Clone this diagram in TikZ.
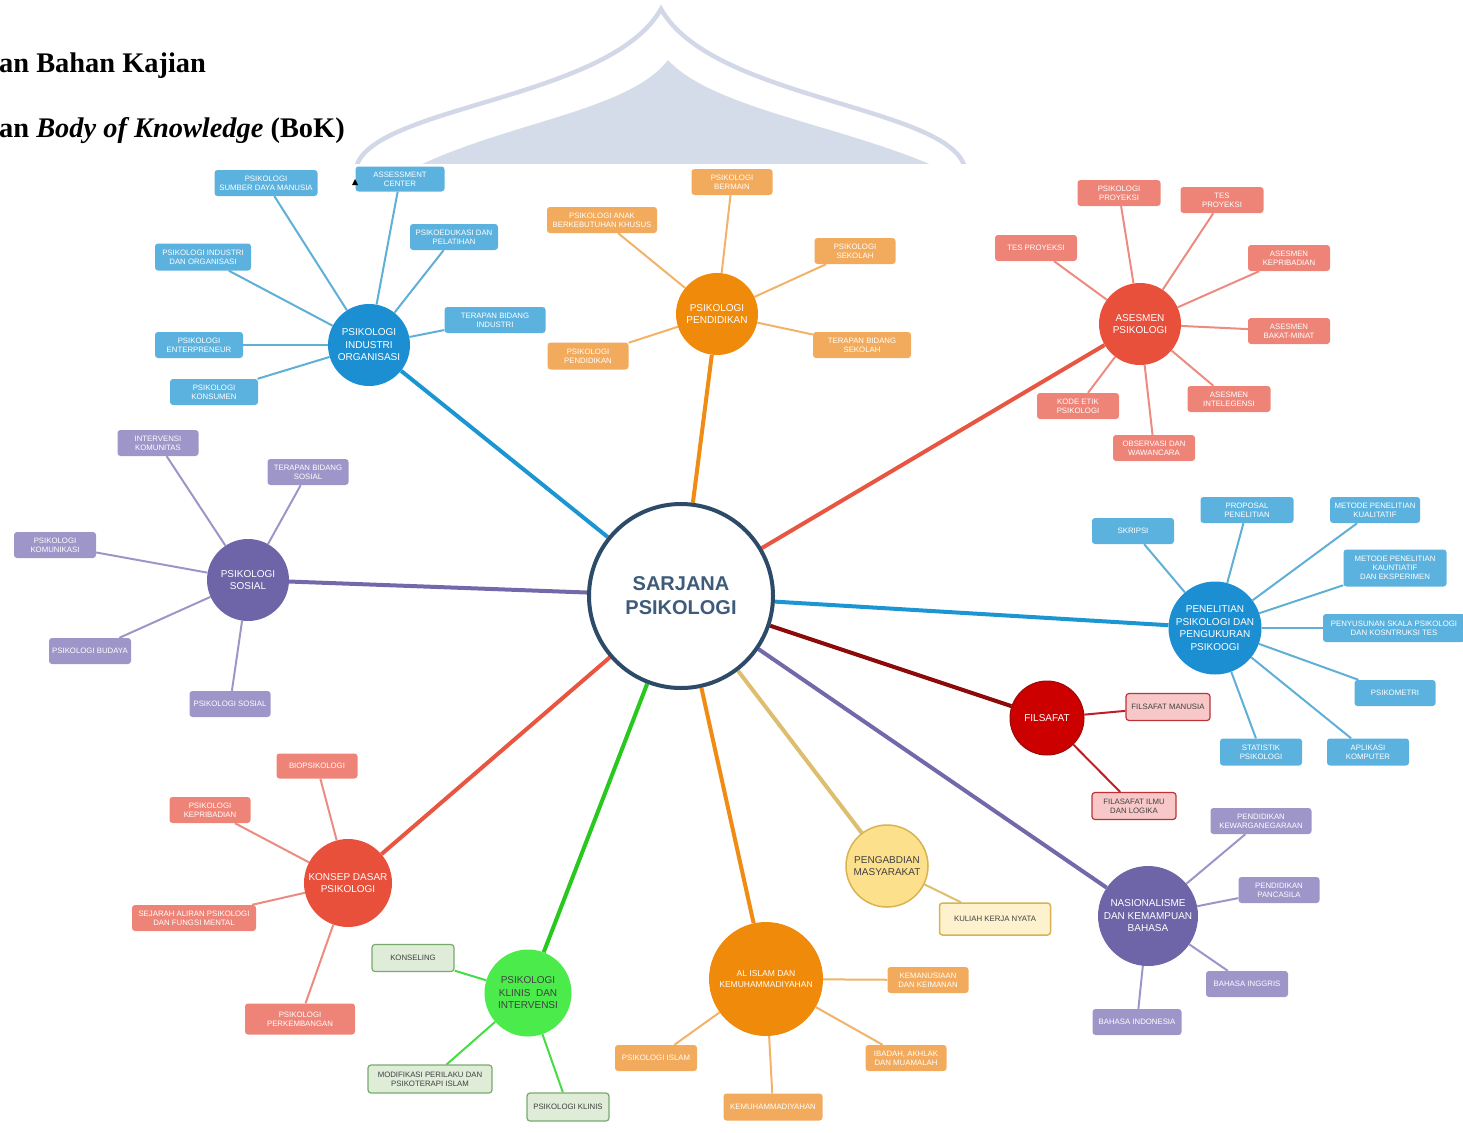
\documentclass[tikz,border=0pt]{standalone}
\usepackage{fontspec}
\setmainfont{Liberation Sans}
\newfontfamily\hdrfont{Liberation Serif}
\usetikzlibrary{backgrounds}
\definecolor{cBlue}{RGB}{27,143,210}
\definecolor{bBlue}{RGB}{92,178,222}
\definecolor{lBlue}{RGB}{95,175,215}
\definecolor{mBlue}{RGB}{28,150,210}
\definecolor{cOrange}{RGB}{240,138,10}
\definecolor{bOrange}{RGB}{242,170,92}
\definecolor{lOrange}{RGB}{242,178,105}
\definecolor{mOrange}{RGB}{240,140,20}
\definecolor{cRed}{RGB}{232,80,60}
\definecolor{bRed}{RGB}{238,132,120}
\definecolor{lRed}{RGB}{236,140,128}
\definecolor{mRed}{RGB}{232,85,65}
\definecolor{cPurple}{RGB}{110,100,168}
\definecolor{bPurple}{RGB}{158,150,200}
\definecolor{lPurple}{RGB}{155,150,200}
\definecolor{mPurple}{RGB}{115,105,170}
\definecolor{cFil}{RGB}{205,0,0}
\definecolor{dFil}{RGB}{150,10,10}
\definecolor{bFil}{RGB}{248,200,200}
\definecolor{eFil}{RGB}{190,50,55}
\definecolor{lFil}{RGB}{190,30,40}
\definecolor{mFil}{RGB}{140,10,10}
\definecolor{cYel}{RGB}{253,224,140}
\definecolor{dYel}{RGB}{215,180,80}
\definecolor{bYel}{RGB}{253,242,205}
\definecolor{mYel}{RGB}{220,190,110}
\definecolor{cGreen}{RGB}{75,235,75}
\definecolor{bGreen}{RGB}{222,236,216}
\definecolor{eGreen}{RGB}{120,170,110}
\definecolor{lGreen}{RGB}{70,220,70}
\definecolor{mGreen}{RGB}{40,200,30}
\definecolor{hubEdge}{RGB}{45,75,105}
\definecolor{hubText}{RGB}{62,92,122}
\definecolor{darkTxt}{RGB}{65,65,65}
\definecolor{domeLine}{RGB}{210,216,232}
\definecolor{domeFill}{RGB}{212,220,234}
\tikzset{
  hub/.style={circle, draw=hubEdge, line width=4, fill=white, inner sep=0,
    minimum size=184, align=center, text=hubText,
    font=\bfseries\fontsize{20}{24}\selectfont},
  mc/.style={circle, inner sep=0, align=center, text=white,
    font=\fontsize{10}{12.5}\selectfont},
  bx/.style={rectangle, rounded corners=3, inner sep=0, align=center,
    text=white, font=\fontsize{7.8}{9.3}\selectfont},
  wh/.style 2 args={minimum width=#1, minimum height=#2},
  bblue/.style={bx, fill=bBlue},
  borange/.style={bx, fill=bOrange},
  bred/.style={bx, fill=bRed},
  bpurple/.style={bx, fill=bPurple},
  bfil/.style={bx, fill=bFil, draw=eFil, line width=1.2, text=darkTxt},
  byel/.style={bx, fill=bYel, draw=dYel, line width=1.5, text=darkTxt},
  bgreen/.style={bx, fill=bGreen, draw=eGreen, line width=1.2, text=darkTxt},
  mainline/.style={line width=4},
  subline/.style={line width=2},
}
\begin{document}
\begin{tikzpicture}[x=1pt,y=-1pt]
\useasboundingbox (0,0) rectangle (1463,1132);

% heading
\node[anchor=base west, inner sep=0, font=\hdrfont\bfseries\fontsize{28.4}{34}\selectfont] (h1) at (-1,72) {an Bahan Kajian};
\node[anchor=base west, inner sep=0, font=\hdrfont\bfseries\fontsize{28.4}{34}\selectfont] (h2) at (-1,137) {an \textit{Body of Knowledge} (BoK)};

% hub
\node[hub] (c) at (681,596) {SARJANA\\PSIKOLOGI};

% main circles
\node[mc, fill=cBlue, minimum size=82] (io) at (369,345) {PSIKOLOGI\\INDUSTRI\\ORGANISASI};
\node[mc, fill=cOrange, minimum size=82] (pp) at (717,314) {PSIKOLOGI\\PENDIDIKAN};
\node[mc, fill=cRed, minimum size=82] (ap) at (1140,324) {ASESMEN\\PSIKOLOGI};
\node[mc, fill=cPurple, minimum size=82] (ps) at (248,580) {PSIKOLOGI\\SOSIAL};
\node[mc, fill=cBlue, minimum size=93] (pl) at (1215,628) {PENELITIAN\\PSIKOLOGI DAN\\PENGUKURAN\\PSIKOOGI};
\node[mc, fill=cFil, draw=dFil, line width=1, minimum size=74] (fs) at (1047,718) {FILSAFAT};
\node[mc, fill=cYel, draw=dYel, line width=1.5, minimum size=82, text=darkTxt] (pm) at (887,866) {PENGABDIAN\\MASYARAKAT};
\node[mc, fill=cPurple, minimum size=100] (nk) at (1148,916) {NASIONALISME\\DAN KEMAMPUAN\\BAHASA};
\node[mc, fill=cOrange, minimum size=114, font=\fontsize{8.5}{11}\selectfont] (ai) at (766,979) {AL ISLAM DAN\\KEMUHAMMADIYAHAN};
\node[mc, fill=cGreen, minimum size=87, text=darkTxt] (pk) at (528,993) {PSIKOLOGI\\KLINIS\ \ DAN\\INTERVENSI};
\node[mc, fill=cRed, minimum size=88] (kd) at (348,883) {KONSEP DASAR\\PSIKOLOGI};

% industri organisasi
\node[bblue, wh={103}{26}] (io1) at (266,183) {PSIKOLOGI\\SUMBER DAYA MANUSIA};
\node[bblue, wh={89}{25}] (io2) at (400,179) {ASSESSMENT\\CENTER};
\node[bblue, wh={88}{26}] (io3) at (454,237) {PSIKOEDUKASI DAN\\PELATIHAN};
\node[bblue, wh={96}{27}] (io4) at (203,257) {PSIKOLOGI INDUSTRI\\DAN ORGANISASI};
\node[bblue, wh={101}{26}] (io5) at (495,320) {TERAPAN BIDANG\\INDUSTRI};
\node[bblue, wh={88}{26}] (io6) at (199,345) {PSIKOLOGI\\ENTERPRENEUR};
\node[bblue, wh={88}{26}] (io7) at (214,392) {PSIKOLOGI\\KONSUMEN};
\fill (352,185) -- (358,185) -- (355,179) -- cycle;

% pendidikan
\node[borange, wh={81}{26}] (pp1) at (732,182) {PSIKOLOGI\\BERMAIN};
\node[borange, wh={110}{26}] (pp2) at (602,220) {PSIKOLOGI ANAK\\BERKEBUTUHAN KHUSUS};
\node[borange, wh={81}{26}] (pp3) at (855,251) {PSIKOLOGI\\SEKOLAH};
\node[borange, wh={98}{26}] (pp4) at (862,345) {TERAPAN BIDANG\\SEKOLAH};
\node[borange, wh={81}{27}] (pp5) at (588,356) {PSIKOLOGI\\PENDIDIKAN};

% asesmen
\node[bred, wh={83}{26}] (ap1) at (1119,193) {PSIKOLOGI\\PROYEKSI};
\node[bred, wh={83}{26}] (ap2) at (1222,200) {TES\\PROYEKSI};
\node[bred, wh={82}{26}] (ap3) at (1036,248) {TES PROYEKSI};
\node[bred, wh={82}{26}] (ap4) at (1289,258) {ASESMEN\\KEPRIBADIAN};
\node[bred, wh={82}{26}] (ap5) at (1289,331) {ASESMEN\\BAKAT-MINAT};
\node[bred, wh={83}{26}] (ap6) at (1229,399) {ASESMEN\\INTELEGENSI};
\node[bred, wh={82}{26}] (ap7) at (1078,406) {KODE ETIK\\PSIKOLOGI};
\node[bred, wh={82}{26}] (ap8) at (1154,448) {OBSERVASI DAN\\WAWANCARA};

% sosial
\node[bpurple, wh={81}{26}] (ps1) at (158,443) {INTERVENSI\\KOMUNITAS};
\node[bpurple, wh={81}{26}] (ps2) at (308,472) {TERAPAN BIDANG\\SOSIAL};
\node[bpurple, wh={82}{26}] (ps3) at (55,545) {PSIKOLOGI\\KOMUNIKASI};
\node[bpurple, wh={82}{26}] (ps4) at (90,651) {PSIKOLOGI BUDAYA};
\node[bpurple, wh={81}{26}] (ps5) at (230,704) {PSIKOLOGI SOSIAL};

% penelitian
\node[bblue, wh={82}{26}] (pl1) at (1133,531) {SKRIPSI};
\node[bblue, wh={93}{26}] (pl2) at (1247,510) {PROPOSAL\\PENELITIAN};
\node[bblue, wh={90}{26}] (pl3) at (1375,510) {METODE PENELITIAN\\KUALITATIF};
\node[bblue, wh={103}{37}] (pl4) at (1395,568) {METODE PENELITIAN\\KAUNTIATIF\\DAN EKSPERIMEN};
\node[bblue, wh={142}{28}] (pl5) at (1394,628) {PENYUSUNAN SKALA PSIKOLOGI\\DAN KOSNTRUKSI TES};
\node[bblue, wh={81}{26}] (pl6) at (1395,693) {PSIKOMETRI};
\node[bblue, wh={82}{27}] (pl7) at (1261,752) {STATISTIK\\PSIKOLOGI};
\node[bblue, wh={82}{27}] (pl8) at (1368,752) {APLIKASI\\KOMPUTER};

% filsafat
\node[bfil, wh={84}{27}] (fs1) at (1168,707) {FILSAFAT MANUSIA};
\node[bfil, wh={84}{27}] (fs2) at (1134,806) {FILASAFAT ILMU\\DAN LOGIKA};

% pengabdian
\node[byel, wh={111}{32}] (pm1) at (995,919) {KULIAH KERJA NYATA};

% nasionalisme
\node[bpurple, wh={101}{26}] (nk1) at (1261,821) {PENDIDIKAN\\KEWARGANEGARAAN};
\node[bpurple, wh={81}{26}] (nk2) at (1279,890) {PENDIDIKAN\\PANCASILA};
\node[bpurple, wh={82}{26}] (nk3) at (1247,984) {BAHASA INGGRIS};
\node[bpurple, wh={89}{26}] (nk4) at (1137,1022) {BAHASA INDONESIA};

% al islam
\node[borange, wh={81}{26}] (ai1) at (928,980) {KEMANUSIAAN\\DAN KEIMANAN};
\node[borange, wh={81}{26}] (ai2) at (906,1058) {IBADAH, AKHLAK\\DAN MUAMALAH};
\node[borange, wh={82}{26}] (ai3) at (656,1058) {PSIKOLOGI ISLAM};
\node[borange, wh={99}{27}] (ai4) at (773,1107) {KEMUHAMMADIYAHAN};

% klinis
\node[bgreen, wh={82}{27}] (pk1) at (413,958) {KONSELING};
\node[bgreen, wh={124}{28}] (pk2) at (430,1079) {MODIFIKASI PERILAKU DAN\\PSIKOTERAPI ISLAM};
\node[bgreen, wh={82}{28}] (pk3) at (568,1107) {PSIKOLOGI KLINIS};

% konsep dasar
\node[bred, wh={81}{25}] (kd1) at (317,766) {BIOPSIKOLOGI};
\node[bred, wh={81}{26}] (kd2) at (210,810) {PSIKOLOGI\\KEPRIBADIAN};
\node[bred, wh={124}{26}] (kd3) at (194,918) {SEJARAH ALIRAN PSIKOLOGI\\DAN FUNGSI MENTAL};
\node[bred, wh={110}{31}] (kd4) at (300,1019) {PSIKOLOGI\\PERKEMBANGAN};

\begin{pgfonlayer}{background}
  % dome watermark
  \begin{scope}
    \clip (0,0) rectangle (1463,163);
    \fill[domeFill] (418,166) .. controls (510,122) and (630,110) .. (668,60)
      .. controls (712,108) and (840,125) .. (934,166) -- cycle;
    \draw[domeLine, line width=4.5] (356,168) .. controls (370,106) and (610,100) .. (661,9)
      .. controls (712,100) and (950,106) .. (965,168);
  \end{scope}
  % main connectors
  \draw[mainline, mBlue] (c) -- (io);
  \draw[mainline, mOrange] (c) -- (pp);
  \draw[mainline, mRed] (c) -- (ap);
  \draw[mainline, mPurple] (c) -- (ps);
  \draw[mainline, mBlue] (c) -- (pl);
  \draw[mainline, mFil] (c) -- (fs);
  \draw[mainline, mYel] (c) -- (pm);
  \draw[mainline, mPurple] (c) -- (nk);
  \draw[mainline, mOrange] (c) -- (ai);
  \draw[mainline, mGreen] (c) -- (pk);
  \draw[mainline, mRed] (c) -- (kd);
  % sub connectors
  \foreach \k in {io1,io2,io3,io4,io5,io6,io7} \draw[subline, lBlue] (io) -- (\k);
  \foreach \k in {pp1,pp2,pp3,pp4,pp5} \draw[subline, lOrange] (pp) -- (\k);
  \foreach \k in {ap1,ap2,ap3,ap4,ap5,ap6,ap7,ap8} \draw[subline, lRed] (ap) -- (\k);
  \foreach \k in {ps1,ps2,ps3,ps4,ps5} \draw[subline, lPurple] (ps) -- (\k);
  \foreach \k in {pl1,pl2,pl3,pl4,pl5,pl6,pl7,pl8} \draw[subline, lBlue] (pl) -- (\k);
  \foreach \k in {fs1,fs2} \draw[subline, lFil] (fs) -- (\k);
  \draw[subline, mYel] (pm) -- (pm1);
  \foreach \k in {nk1,nk2,nk3,nk4} \draw[subline, lPurple] (nk) -- (\k);
  \foreach \k in {ai1,ai2,ai3,ai4} \draw[subline, lOrange] (ai) -- (\k);
  \foreach \k in {pk1,pk2,pk3} \draw[subline, lGreen] (pk) -- (\k);
  \foreach \k in {kd1,kd2,kd3,kd4} \draw[subline, lRed] (kd) -- (\k);
\end{pgfonlayer}
\end{tikzpicture}
\end{document}
